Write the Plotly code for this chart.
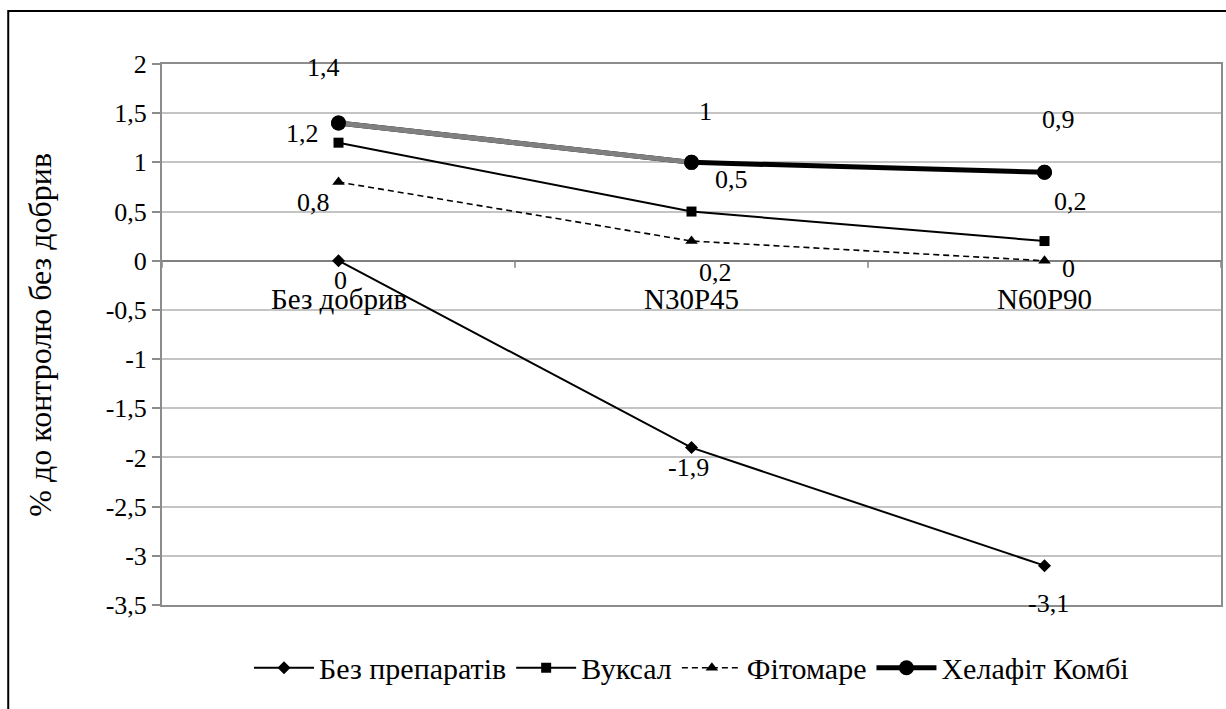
import plotly.graph_objects as go

categories = ["Без добрив", "N30P45", "N60P90"]
series_names = ["Без препаратів", "Вуксал", "Фітомаре", "Хелафіт Комбі"]
bez_prep = [0, -1.9, -3.1]
vuksal = [1.2, 0.5, 0.2]
fitomare = [0.8, 0.2, 0]
helafit = [1.4, 1, 0.9]
y_tickvals = [2, 1.5, 1, 0.5, 0, -0.5, -1, -1.5, -2, -2.5, -3, -3.5]
y_ticktext = ["2", "1,5", "1", "0,5", "0", "-0,5", "-1", "-1,5", "-2", "-2,5", "-3", "-3,5"]
y_title = "% до контролю без добрив"

FONT = "Liberation Serif, Times New Roman, serif"
FS_TICK = 26
FS_LABEL = 26
FS_CAT = 29
FS_LEG = 30
FS_TITLE = 32


def fmt(v):
    return ("%g" % v).replace(".", ",")


fig = go.Figure()

fig.add_trace(go.Scatter(x=categories, y=bez_prep, name=series_names[0], mode="lines+markers",
                         line=dict(color="black", width=2),
                         marker=dict(symbol="diamond", size=10, color="black")))
fig.add_trace(go.Scatter(x=categories, y=vuksal, name=series_names[1], mode="lines+markers",
                         line=dict(color="black", width=2),
                         marker=dict(symbol="square", size=10, color="black")))
fig.add_trace(go.Scatter(x=categories, y=fitomare, name=series_names[2], mode="lines+markers",
                         line=dict(color="black", width=1.6, dash="6px,4px"),
                         marker=dict(symbol="triangle-up", size=11, color="black")))
fig.add_trace(go.Scatter(x=categories, y=helafit, name=series_names[3], mode="lines+markers",
                         line=dict(color="black", width=5),
                         marker=dict(symbol="circle", size=15, color="black")))
# first segment of Хелафіт Комбі drawn in grey
fig.add_trace(go.Scatter(x=categories[:2], y=helafit[:2], mode="lines", showlegend=False,
                         line=dict(color="#808080", width=5), hoverinfo="skip"))
fig.add_trace(go.Scatter(x=categories, y=helafit, mode="markers", showlegend=False,
                         marker=dict(symbol="circle", size=15, color="black"), hoverinfo="skip"))

# data label offsets (pixels: dx right, dy down)
offsets = {
    0: [(2, 20), (-3, 20), (4, 38)],
    1: [(-36, -9), (40, -32), (26, -40)],
    2: [(-25, 20), (24, 31), (24, 8)],
    3: [(-15, -56), (14, -51), (14, -53)],
}
all_series = [bez_prep, vuksal, fitomare, helafit]
annotations = []
for si, vals in enumerate(all_series):
    for i, v in enumerate(vals):
        dx, dy = offsets[si][i]
        annotations.append(dict(x=categories[i], y=v, xref="x", yref="y", text=fmt(v),
                                showarrow=False, xshift=dx, yshift=-dy,
                                xanchor="center", yanchor="middle",
                                font=dict(family=FONT, size=FS_LABEL, color="black")))

# category labels at the zero line
for c in categories:
    annotations.append(dict(x=c, y=0, xref="x", yref="y", text=c, showarrow=False,
                            yshift=-38, xanchor="center", yanchor="middle",
                            font=dict(family=FONT, size=FS_CAT, color="black")))

# y title
annotations.append(dict(x=-0.116, y=0.5, xref="paper", yref="paper", text=y_title,
                        textangle=-90, showarrow=False, xanchor="center", yanchor="middle",
                        font=dict(family=FONT, size=FS_TITLE, color="black")))

shapes = []
# category boundary ticks on zero line
for k in range(len(categories) + 1):
    shapes.append(dict(type="line", xref="x", yref="y", x0=k - 0.5, x1=k - 0.5,
                       ysizemode="pixel", yanchor=0, y0=0, y1=-7,
                       line=dict(color="#808080", width=1.5)))
# outer chart border
shapes.append(dict(type="rect", xref="paper", yref="paper", x0=-0.1452, x1=1.016,
                   y0=-0.2126, y1=1.098, line=dict(color="black", width=2), layer="below"))

fig.update_layout(
    width=1226, height=709,
    margin=dict(l=162, r=3, t=64, b=104),
    paper_bgcolor="white", plot_bgcolor="white",
    font=dict(family=FONT, size=FS_TICK, color="black"),
    showlegend=True,
    legend=dict(orientation="h", x=0.5, xanchor="center", y=-0.116, yanchor="middle",
                font=dict(family=FONT, size=FS_LEG, color="black"), itemwidth=60,
                tracegroupgap=0, bgcolor="rgba(0,0,0,0)"),
    annotations=annotations,
    shapes=shapes,
)
fig.update_xaxes(type="category", range=[-0.5, 2.5], showticklabels=False, showgrid=False,
                 zeroline=False, showline=True, linecolor="#8c8c8c", linewidth=2, mirror=True,
                 ticks="")
fig.update_yaxes(range=[-3.5, 2], tickmode="array", tickvals=y_tickvals, ticktext=y_ticktext,
                 showgrid=True, gridcolor="#c4c4c4", gridwidth=2,
                 zeroline=True, zerolinecolor="#808080", zerolinewidth=1.5,
                 showline=True, linecolor="#8c8c8c", linewidth=2, mirror=True,
                 ticks="outside", ticklen=8, tickcolor="#8c8c8c", tickwidth=2,
                 tickfont=dict(family=FONT, size=FS_TICK, color="black"))

fig.write_html("out.html")
